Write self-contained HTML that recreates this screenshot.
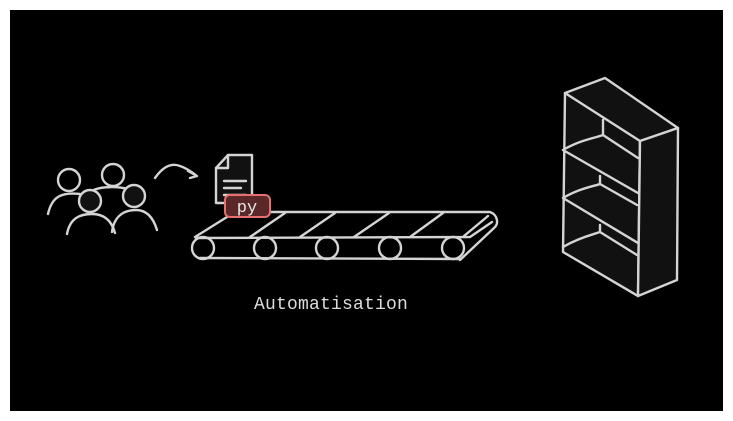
<!DOCTYPE html>
<html><head><style>
html,body{margin:0;padding:0;background:#fff;width:733px;height:421px;overflow:hidden}
svg{display:block}
</style></head><body>
<svg width="733" height="421" viewBox="0 0 733 421" xmlns="http://www.w3.org/2000/svg">
<rect x="0" y="0" width="733" height="421" fill="#fff"/>
<rect x="10" y="10" width="713" height="401" fill="#000"/>
<g fill="none" stroke="#d4d4d4" stroke-width="2.4" stroke-linecap="round" stroke-linejoin="round">
<!-- people -->
<circle cx="69" cy="180" r="11" fill="#000"/>
<circle cx="113" cy="175" r="11" fill="#000"/>
<path d="M48,214 C52,196 62,192 80,194 M92,191 C100,186 120,186 130,190"/>
<circle cx="90" cy="201" r="11" fill="#111"/>
<circle cx="134" cy="196" r="11" fill="#111"/>
<path d="M67,234 C70,218 80,214 92,214 C105,214 112,222 115,233"/>
<path d="M112,232 C114,216 124,210 136,210 C148,210 154,220 157,230"/>
<!-- arrow -->
<path d="M155,178 C162,168 170,162 180,166 C186,168 192,172 197,176 M188,171 L197,176 L190,178"/>
<!-- document -->
<path d="M228,155 L252,155 L252,203 L216,203 L216,168 Z" fill="#111"/>
<path d="M216,168 L228,168 L228,155"/>
<path d="M224,181 L246,181 M224,188 L241,188 M224,195 L246,195"/>
<!-- conveyor -->
<path d="M235,212 L490,212 C498,215 499,224 494,228 L460,260"/>
<path d="M195,237 L235,212 M196,238 L470,237 L492,222"/>
<path d="M250,237 L285,213 M300,237 L335,213 M354,237 L389,213 M410,237 L443,213 M464,236 L488,216"/>
<path d="M200,258 L460,259"/>
<circle cx="203" cy="248" r="11"/>
<circle cx="265" cy="248" r="11"/>
<circle cx="327" cy="248" r="11"/>
<circle cx="390" cy="248" r="11"/>
<circle cx="453" cy="248" r="11"/>
<!-- bookshelf -->
<path d="M565,93 L563,252 L638,296 L640,141" fill="#111"/>
<path d="M565,93 L605,78 L678,128 L640,141 Z" fill="#111"/>
<path d="M640,141 L678,128 L677,280 L638,296 Z" fill="#111"/>
<path d="M563,150 C580,140 595,138 603,135 M563,150 L638,193 M603,120 L603,135 M603,135 L638,158"/>
<path d="M563,198 C580,188 595,186 600,184 M563,198 L638,243 M600,176 L600,184 M600,184 L637,205"/>
<path d="M563,247 C580,237 595,234 600,232 M600,225 L600,232 M600,232 L637,255"/>
</g>
<rect x="225" y="195" width="45" height="22" rx="5" fill="#5a2828" stroke="#e86f6f" stroke-width="2"/>
<text x="247" y="212" fill="#e8e8e8" font-family="Liberation Mono, monospace" font-size="17" text-anchor="middle">py</text>
<text x="331" y="309" fill="#dcdcdc" font-family="Liberation Mono, monospace" font-size="18" letter-spacing="0.2" text-anchor="middle">Automatisation</text>
</svg>
</body></html>
